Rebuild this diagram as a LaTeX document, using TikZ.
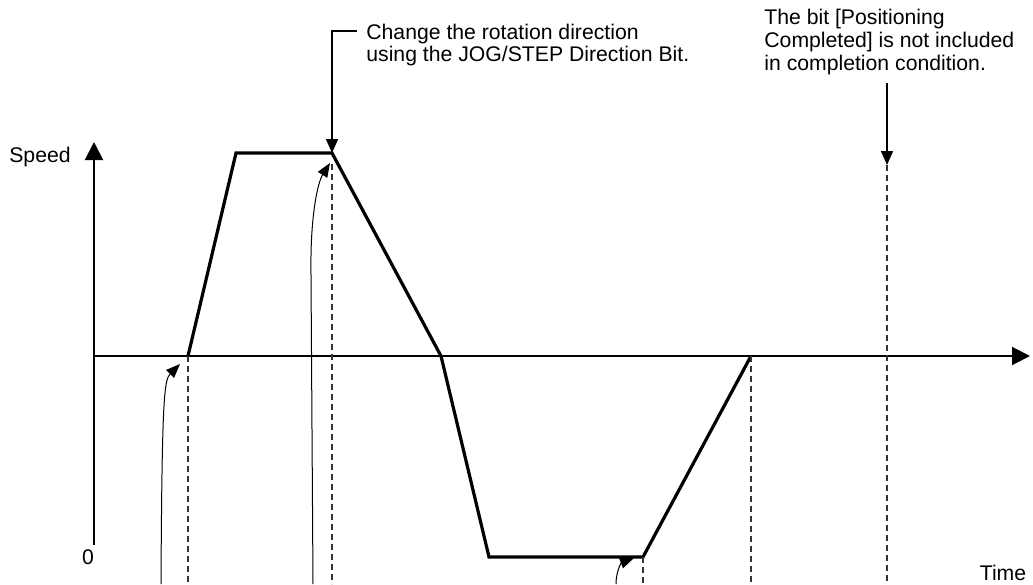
\documentclass[tikz,border=0pt]{standalone}
\usepackage{fontspec}
\setmainfont{Liberation Sans}
\usetikzlibrary{arrows.meta}

\begin{document}
\begin{tikzpicture}[
  x=0.5pt, y=-0.5pt,
  lbl/.style={font=\fontsize{10.6}{11.4}\selectfont, inner sep=0pt},
  note/.style={lbl, align=left, anchor=west},
  axis/.style={line width=1pt, -{Triangle[length=9pt, width=9pt]}},
  prof/.style={line width=1.6pt, line join=miter},
  guide/.style={dash pattern=on 3pt off 2pt, line width=0.6pt, black!80},
  callout/.style={line width=0.7pt, -{Triangle[length=7pt, width=6pt]}},
  hook/.style={line width=0.5pt, -{Triangle[length=7pt, width=5.5pt]}}]
  \useasboundingbox (0,0) rectangle (1033,584);
  % axes
  \coordinate (ybot) at (94,545);
  \coordinate (ytop) at (94,142);
  \coordinate (xorg) at (94,356);
  \coordinate (xend) at (1030,356);
  \draw[axis] (ybot) -- (ytop);
  \draw[axis] (xorg) -- (xend);
  \node[lbl] (speed) at (40,157) {Speed};
  \node[lbl] (zero)  at (88,557) {0};
  \node[lbl] (time)  at (1003,573) {Time};
  % speed profile
  \coordinate (p0) at (188,356);
  \coordinate (p1) at (236,153);
  \coordinate (p2) at (332,153);
  \coordinate (p3) at (441,356);
  \coordinate (p4) at (489,557);
  \coordinate (p5) at (643,557);
  \coordinate (p6) at (751,356);
  \draw[prof] (p0) -- (p1) -- (p2) -- (p3) -- (p4) -- (p5) -- (p6);
  % guide lines
  \foreach \gx/\gy in {188/356, 332/164, 643/557, 751/356, 887/165}
    \draw[guide] (\gx,\gy) -- (\gx,584);
  % curved markers
  \coordinate (c1) at (161,584);
  \coordinate (c2) at (313,584);
  \coordinate (c3) at (616,584);
  \draw[hook] (c1) .. controls (162,400) and (164,380) .. (180,364);
  \draw[hook] (c2) -- (311,275) .. controls (310,215) and (318,182) .. (330,163);
  \draw[hook] (c3) .. controls (616,572) and (621,563) .. (634,558);
  % notes
  \node[note] (dirnote) at (366,45) {Change the rotation direction\\using the JOG/STEP Direction Bit.};
  \node[note] (bitnote) at (764,42) {The bit [Positioning\\Completed] is not included\\in completion condition.};
  \coordinate (dirtail) at (357,31);
  \coordinate (bittail) at (887,83);
  \coordinate (bithead) at (887,165);
  \draw[callout] (dirtail) -| (p2);
  \draw[callout] (bittail) -- (bithead);
\end{tikzpicture}
\end{document}
